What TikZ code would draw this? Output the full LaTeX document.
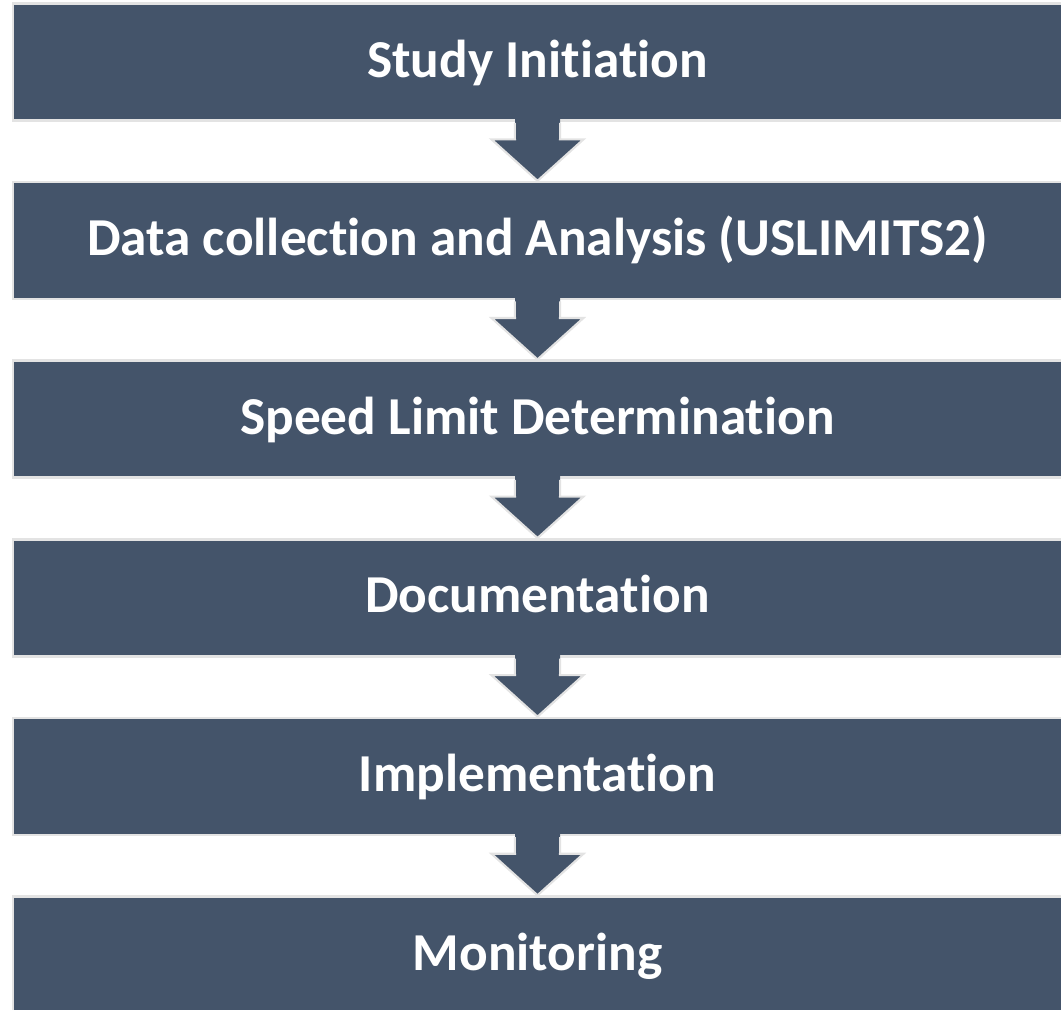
\documentclass[tikz,border=0pt]{standalone}
\usepackage{fontspec}
\setmainfont{Carlito}[Ligatures={NoCommon,NoContextual}]
\definecolor{boxfill}{HTML}{44546A}
\definecolor{boxline}{HTML}{E3E3E3}
\tikzset{
  stagebox/.style={draw=boxline, fill=boxfill, line width=1.9pt,
    minimum width=786.75pt, minimum height=87.75pt, inner sep=0pt,
    text=white, font=\fontsize{40}{48}\selectfont\bfseries,
    text height=25.5pt, text depth=3pt},
  arrowfill/.style={fill=boxfill},
  arrowline/.style={draw=boxline, line width=1.6pt, line join=miter}
}
\newcommand\flowarrow[2]{%
  \fill[arrowfill] ([shift={(-22.5,-4)}]#1.south) -- ([shift={(-22.5,17.6)}]#1.south)
    -- ([shift={(-46,17.6)}]#1.south) -- (#2.north) -- ([shift={(46,17.6)}]#1.south)
    -- ([shift={(22.5,17.6)}]#1.south) -- ([shift={(22.5,-4)}]#1.south) -- cycle;
  \draw[arrowline] ([shift={(-22.5,1)}]#1.south) -- ([shift={(-22.5,17.6)}]#1.south)
    -- ([shift={(-46,17.6)}]#1.south) -- (#2.north) -- ([shift={(46,17.6)}]#1.south)
    -- ([shift={(22.5,17.6)}]#1.south) -- ([shift={(22.5,1)}]#1.south);
  \fill[arrowfill] ([shift={(-21.7,-4)}]#1.south) rectangle ([shift={(21.7,16.8)}]#1.south);
}
\begin{document}
\begin{tikzpicture}[x=0.75pt, y=-0.75pt]
\useasboundingbox (0,0) rectangle (1061,1010);
\node[stagebox] (b1) at (537.5, 62) {Study Initiation};
\node[stagebox] (b2) at (537.5, 240.6) {Data collection and Analysis (USLIMITS2)};
\node[stagebox] (b3) at (537.5, 419.2) {Speed Limit Determination};
\node[stagebox] (b4) at (537.5, 597.8) {Documentation};
\node[stagebox] (b5) at (537.5, 776.4) {Implementation};
\node[stagebox] (b6) at (537.5, 955) {Monitoring};
\flowarrow{b1}{b2}
\flowarrow{b2}{b3}
\flowarrow{b3}{b4}
\flowarrow{b4}{b5}
\flowarrow{b5}{b6}
\end{tikzpicture}
\end{document}
